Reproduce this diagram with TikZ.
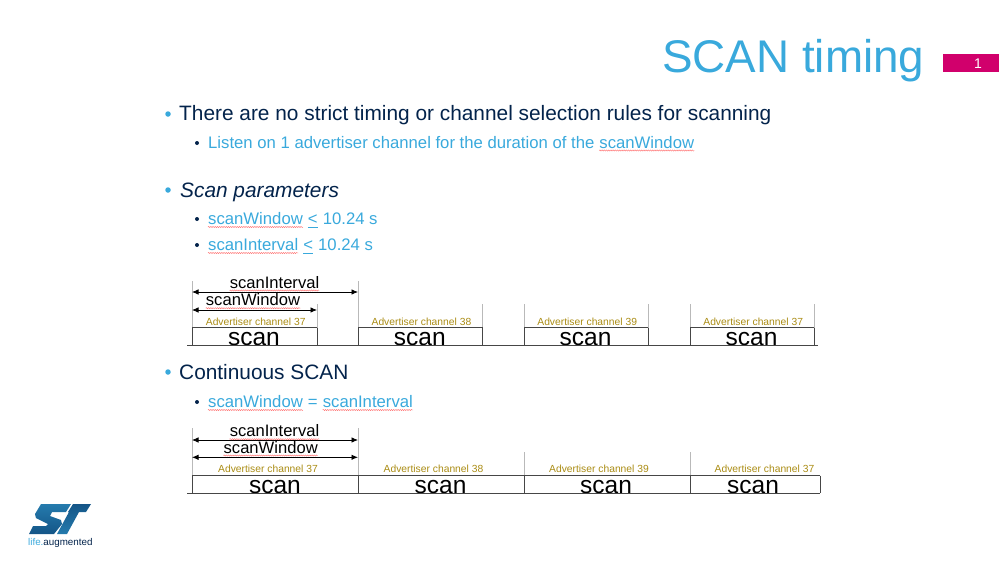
\documentclass[tikz,border=0pt]{standalone}
\usepackage{fontspec}
\setmainfont{Liberation Sans}
\usetikzlibrary{arrows.meta,decorations.pathmorphing,shadings}
\definecolor{SkyClr}{RGB}{57,169,220}
\definecolor{NavyClr}{RGB}{3,35,75}
\definecolor{PinkClr}{RGB}{209,0,108}
\definecolor{GoldClr}{RGB}{170,140,20}
\definecolor{TickClr}{RGB}{185,185,185}
\definecolor{LineClr}{RGB}{70,70,70}
\definecolor{LogoClr}{RGB}{20,85,135}
\tikzset{
  lvlone/.style={anchor=base west,inner sep=0pt,font=\fontsize{20.85}{22}\selectfont,text=NavyClr},
  lvltwo/.style={anchor=base west,inner sep=0pt,font=\fontsize{16.7}{17}\selectfont,text=SkyClr},
  dotone/.style={circle,fill=SkyClr,inner sep=0pt,minimum size=5.5pt},
  dottwo/.style={circle,fill=NavyClr,inner sep=0pt,minimum size=4pt},
  chan/.style={inner sep=0pt,anchor=base,font=\fontsize{10.3}{10.3}\selectfont,text=GoldClr},
  scanlbl/.style={inner sep=0pt,anchor=base,font=\fontsize{24.5}{24.5}\selectfont},
  span/.style={inner sep=0pt,anchor=base,font=\fontsize{16.6}{16.6}\selectfont},
  tick/.style={TickClr,line width=1pt},
  box/.style={LineClr,line width=1pt},
  dim/.style={black,line width=.8pt,{Latex[length=6.5pt,width=5.5pt]}-{Latex[length=6.5pt,width=5.5pt]}},
  squig/.style={red!55!white,line width=.45pt,decorate,decoration={snake,amplitude=.6pt,segment length=2.2pt}},
}
\begin{document}
\begin{tikzpicture}[x=1pt,y=-1pt]
\useasboundingbox (0,0) rectangle (999,560);

\node[anchor=base west,inner sep=0pt,font=\fontsize{45.8}{46}\selectfont,text=SkyClr] (title) at (662,72) {SCAN timing};
\node[fill=PinkClr,minimum width=56pt,minimum height=18pt,inner sep=0pt] (page) at (971,63) {};
\node[inner sep=0pt,text=white,font=\fontsize{14}{14}\selectfont] (pagenr) at (978,63.5) {1};

\node[dotone] (b1) at (168,114) {};
\node[lvlone] (t1) at (179,120.5) {There are no strict timing or channel selection rules for scanning};
\node[dottwo] (b2) at (197,143) {};
\node[lvltwo] (t2) at (208,148) {Listen on 1 advertiser channel for the duration of the};
\node[lvltwo] (t2w) at ([xshift=4.64pt]t2.base east) {scanWindow};
\draw[squig] ([yshift=-2.5pt]t2w.base west) -- ([yshift=-2.5pt]t2w.base east);

\node[dotone] (b3) at (168,190) {};
\node[lvlone,font=\fontsize{20.85}{22}\selectfont\itshape] (t3) at (180,197) {Scan parameters};
\node[dottwo] (b4) at (197,219) {};
\node[lvltwo] (t4) at (208,224.5) {scanWindow};
\draw[squig] ([yshift=-2.5pt]t4.base west) -- ([yshift=-2.5pt]t4.base east);
\node[lvltwo] (t4b) at ([xshift=4.7pt]t4.base east) {<};
\draw[SkyClr,line width=.8pt] ([yshift=-2.5pt]t4b.base west) -- ([yshift=-2.5pt]t4b.base east);
\node[lvltwo] (t4c) at ([xshift=4.7pt]t4b.base east) {10.24 s};
\node[dottwo] (b5) at (197,245) {};
\node[lvltwo] (t5) at (208,250.5) {scanInterval};
\draw[squig] ([yshift=-2.5pt]t5.base west) -- ([yshift=-2.5pt]t5.base east);
\node[lvltwo] (t5b) at ([xshift=4.7pt]t5.base east) {<};
\draw[SkyClr,line width=.8pt] ([yshift=-2.5pt]t5b.base west) -- ([yshift=-2.5pt]t5b.base east);
\node[lvltwo] (t5c) at ([xshift=4.7pt]t5b.base east) {10.24 s};

% first timing row
\foreach \xa/\xb/\top/\nr/\cnt in {192/317/281/37/a,358/482.5/281/38/b,524/648/304/39/c,690/814/304/37/d}{
  \coordinate (s\cnt w) at (\xa,327.7);
  \coordinate (s\cnt e) at (\xb,327.7);
  \draw[tick] (\xa,\top) -- (s\cnt w);
  \draw[tick] (\xb,304) -- (s\cnt e);
  \draw[box] (s\cnt w) -- (s\cnt e) (s\cnt w) -- (\xa,345.3) (s\cnt e) -- (\xb,345.3);
  \pgfmathsetmacro{\xm}{(\xa+\xb)/2}
  \node[chan] (c\cnt) at ({\xm+1.2},325) {Advertiser channel \nr};
  \node[scanlbl] (l\cnt) at ({\xm-.5},345) {scan};
}
\coordinate (axl) at (187,345.3);
\coordinate (axr) at (818,345.3);
\draw[box] (axl) -- (axr);
\coordinate (ia) at (192,292);
\coordinate (ib) at (358,292);
\coordinate (wa) at (192,310);
\coordinate (wb) at (317,310);
\draw[dim] (ia) -- (ib);
\draw[dim] (wa) -- (wb);
\node[span] (si) at (274.5,288) {scanInterval};
\node[span] (sw) at (253,305.7) {scanWindow};
\draw[squig] ([yshift=-2.5pt]si.base west) -- ([yshift=-2.5pt]si.base east);
\draw[squig] ([yshift=-2.5pt]sw.base west) -- ([yshift=-2.5pt]sw.base east);

\node[dotone] (b6) at (168,372) {};
\node[lvlone] (t6) at (179,379.5) {Continuous SCAN};
\node[dottwo] (b7) at (197,402) {};
\node[lvltwo] (t7) at (208,407.5) {scanWindow};
\draw[squig] ([yshift=-2.5pt]t7.base west) -- ([yshift=-2.5pt]t7.base east);
\node[lvltwo] (t7b) at ([xshift=4.7pt]t7.base east) {=};
\node[lvltwo] (t7c) at ([xshift=4.7pt]t7b.base east) {scanInterval};
\draw[squig] ([yshift=-2.5pt]t7c.base west) -- ([yshift=-2.5pt]t7c.base east);

% second timing row
\foreach \xa/\xb/\top/\nr/\cnt/\xc/\xs in {192/358/428/37/e/268/275,358/524/428/38/f/433.5/440.5,524/690/452/39/g/599/606,690/820/452/37/h/764.5/753}{
  \coordinate (s\cnt w) at (\xa,475.7);
  \coordinate (s\cnt e) at (\xb,475.7);
  \draw[tick] (\xa,\top) -- (s\cnt w);
  \draw[box] (s\cnt w) -- (s\cnt e) (s\cnt w) -- (\xa,493.3) (s\cnt e) -- (\xb,493.3);
  \node[chan] (c\cnt) at (\xc,472) {Advertiser channel \nr};
  \node[scanlbl] (l\cnt) at (\xs,493) {scan};
}
\coordinate (bxl) at (187,493.3);
\coordinate (bxr) at (820,493.3);
\draw[box] (bxl) -- (bxr);
\coordinate (ja) at (192,440);
\coordinate (jb) at (358,440);
\coordinate (ka) at (192,457.3);
\coordinate (kb) at (358,457.3);
\draw[dim] (ja) -- (jb);
\draw[dim] (ka) -- (kb);
\node[span] (si2) at (274.5,436.7) {scanInterval};
\node[span] (sw2) at (270.7,453) {scanWindow};
\draw[squig] ([yshift=-2.5pt]si2.base west) -- ([yshift=-2.5pt]si2.base east);
\draw[squig] ([yshift=-2.5pt]sw2.base west) -- ([yshift=-2.5pt]sw2.base east);

% logo
\shade[top color=SkyClr!45!LogoClr,bottom color=LogoClr]
  (41,504) -- (71,504) -- (66,512) -- (52,512) -- (50,516) -- (61,520) -- (62,524) -- (54,534) -- (29,534) -- (33,526) -- (46,526) -- (48,524) -- (36,518) -- (35,514) -- cycle;
\shade[top color=LogoClr,bottom color=SkyClr!45!LogoClr]
  (73,504) -- (91,504) -- (86,512) -- (79,512) -- (67,534) -- (57,534) -- (69,512) -- (68,512) -- cycle;
\node[inner sep=0pt,anchor=base west,font=\fontsize{9.8}{10}\selectfont] (logotxt) at (28,545) {\textcolor{SkyClr}{life.}\textcolor{NavyClr}{augmented}};
\end{tikzpicture}
\end{document}
